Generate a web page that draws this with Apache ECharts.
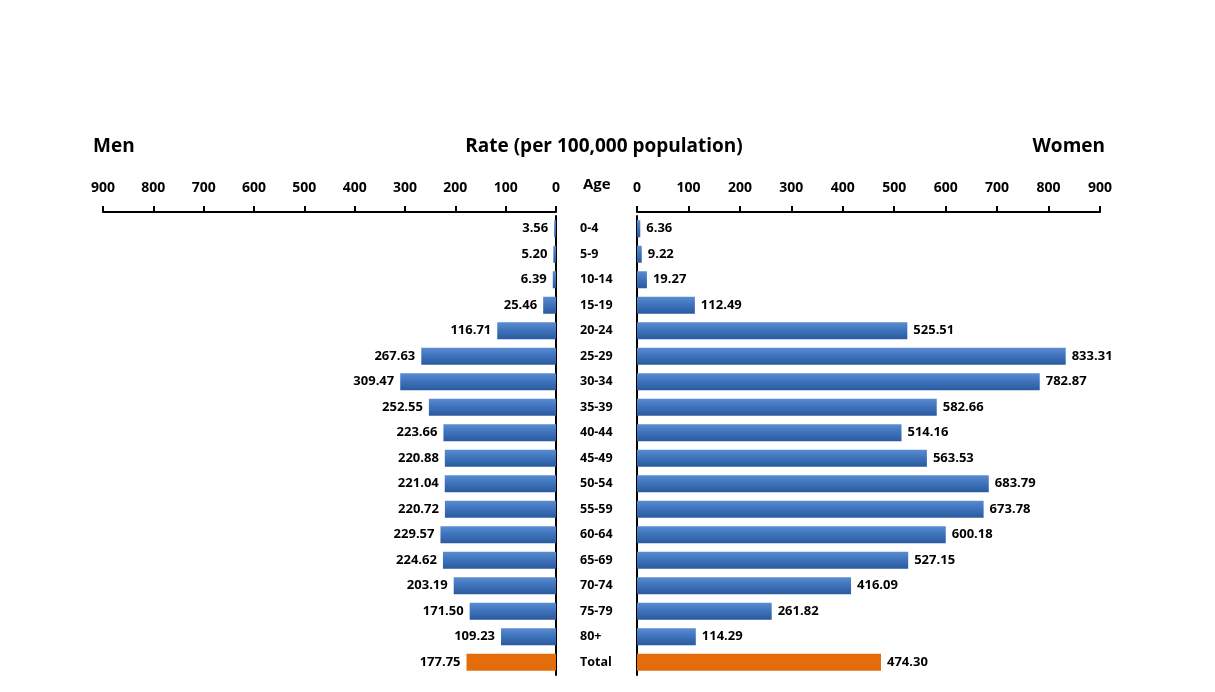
<!DOCTYPE html>
<html>
<head>
<meta charset="utf-8">
<script src="https://cdn.jsdelivr.net/npm/echarts@6/dist/echarts.min.js"></script>
<style>
html,body{margin:0;padding:0;background:#fff;}
#chart{width:1215px;height:692px;}
</style>
</head>
<body>
<div id="chart"></div>
<script>
const categories = ['0-4','5-9','10-14','15-19','20-24','25-29','30-34','35-39','40-44','45-49','50-54','55-59','60-64','65-69','70-74','75-79','80+','Total'];
const men = [3.56,5.20,6.39,25.46,116.71,267.63,309.47,252.55,223.66,220.88,221.04,220.72,229.57,224.62,203.19,171.50,109.23,177.75];
const women = [6.36,9.22,19.27,112.49,525.51,833.31,782.87,582.66,514.16,563.53,683.79,673.78,600.18,527.15,416.09,261.82,114.29,474.30];
const axisTicks = [0,100,200,300,400,500,600,700,800,900];

const blue = new echarts.graphic.LinearGradient(0,0,0,1,[
  {offset:0,color:'#5a8cd0'},{offset:0.45,color:'#3f74bd'},{offset:1,color:'#2a5a9e'}]);
const orange = '#e46c0a';
const font = 'Open Sans, DejaVu Sans, sans-serif';

function mk(values){
  return values.map((v,i)=>({value:v, itemStyle:{color: categories[i]==='Total'?orange:blue}}));
}

const chart = echarts.init(document.getElementById('chart'));
const xCommon = {
  type:'value', min:axisTicks[0], max:axisTicks[axisTicks.length-1], interval:100, position:'top', offset:4,
  axisLine:{show:true,lineStyle:{color:'#000',width:2}},
  axisTick:{show:true,length:6,lineStyle:{color:'#000',width:2}},
  axisLabel:{color:'#000',fontWeight:'bold',fontSize:14,fontFamily:font,margin:17},
  splitLine:{show:false}
};
const titleStyle = {fontSize:19,fontWeight:'bold',color:'#000',fontFamily:font};
chart.setOption({
  animation:false,
  title:[
    {text:'Men',left:93,top:137,padding:0,textStyle:titleStyle},
    {text:'Rate (per 100,000 population)',left:604,textAlign:'center',top:137,padding:0,textStyle:titleStyle},
    {text:'Women',right:110,top:137,padding:0,textStyle:titleStyle},
    {text:'Age',left:583,top:177,padding:0,textStyle:{fontSize:15,fontWeight:'bold',color:'#000',fontFamily:font}}
  ],
  grid:[
    {left:103,right:659,top:216,height:459},
    {left:637,right:115,top:216,height:459}
  ],
  xAxis:[
    Object.assign({gridIndex:0,inverse:true},xCommon),
    Object.assign({gridIndex:1},xCommon)
  ],
  yAxis:[
    {gridIndex:0,type:'category',data:categories,inverse:true,position:'right',
     axisLine:{show:true,lineStyle:{color:'#000',width:2}},axisTick:{show:false},axisLabel:{show:false}},
    {gridIndex:1,type:'category',data:categories,inverse:true,position:'left',
     axisLine:{show:true,lineStyle:{color:'#000',width:2}},axisTick:{show:false},
     axisLabel:{show:true,align:'left',margin:57,color:'#000',fontWeight:'bold',fontSize:12.5,fontFamily:font}}
  ],
  series:[
    {type:'bar',xAxisIndex:0,yAxisIndex:0,data:mk(men),barWidth:17,
     label:{show:true,position:'left',distance:6,color:'#000',fontWeight:'bold',fontSize:13,fontFamily:font,
       formatter:p=>p.value.toFixed(2)}},
    {type:'bar',xAxisIndex:1,yAxisIndex:1,data:mk(women),barWidth:17,
     label:{show:true,position:'right',distance:6,color:'#000',fontWeight:'bold',fontSize:13,fontFamily:font,
       formatter:p=>p.value.toFixed(2)}}
  ]
});
</script>
</body>
</html>
